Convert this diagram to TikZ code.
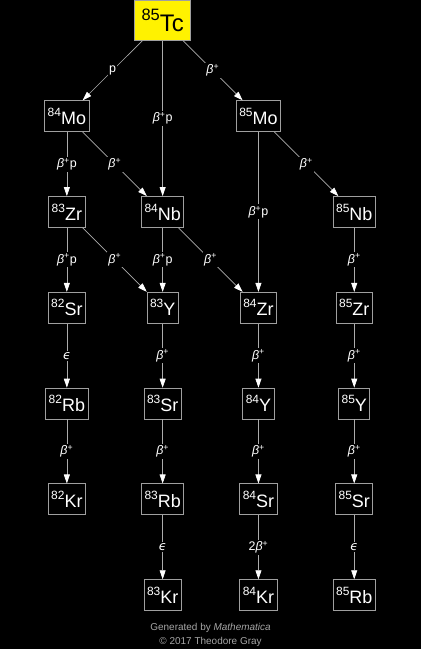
\documentclass[tikz,border=0pt]{standalone}
\usepackage{fontspec}
\setmainfont{Liberation Sans}
\newfontfamily\symfont{DejaVu Sans}
\usetikzlibrary{arrows.meta, positioning}

% nuclide label: mass number raised, then symbol
\newcommand{\iso}[2]{\raisebox{8pt}{\fontsize{12}{12}\selectfont #1}{\fontsize{18}{18}\selectfont #2}}
\newcommand{\isobig}[2]{\raisebox{11pt}{\fontsize{16.5}{16.5}\selectfont #1}{\fontsize{24}{24}\selectfont #2}}
% decay modes
\newcommand{\bplus}{\textit{β}\textsuperscript{+}}
\newcommand{\ecap}{{\symfont\itshape ϵ}}

\begin{document}
\begin{tikzpicture}[x=1pt, y=-1pt,
  nuc/.style={draw=gray!75, line width=0.8pt, text=white, minimum height=31pt, inner xsep=3pt, inner ysep=0pt},
  decay/.style={draw=gray!65, line width=0.7pt, -{Triangle[length=9pt,width=6pt,color=white]}},
  lab/.style={midway, fill=black, text=white, inner sep=1.5pt, font=\fontsize{12.5}{13}\selectfont}]

% background and size
\fill[black] (0,0) rectangle (422,650);

% parent
\node[nuc, fill=yellow, text=black, minimum width=56pt, minimum height=40pt] (tc85) at (163,20) {\isobig{85}{Tc}};

% row 1
\node[nuc] (mo84) at (67,116) {\iso{84}{Mo}};
\node[nuc] (mo85) at (259,116) {\iso{85}{Mo}};

% row 2
\node[nuc] (zr83) at (67,212) {\iso{83}{Zr}};
\node[nuc] (nb84) at (163,212) {\iso{84}{Nb}};
\node[nuc] (nb85) at (355,212) {\iso{85}{Nb}};

% row 3
\node[nuc] (sr82) at (67,308) {\iso{82}{Sr}};
\node[nuc] (y83) at (163,308) {\iso{83}{Y}};
\node[nuc] (zr84) at (259,308) {\iso{84}{Zr}};
\node[nuc] (zr85) at (355,308) {\iso{85}{Zr}};

% row 4
\node[nuc] (rb82) at (67,404) {\iso{82}{Rb}};
\node[nuc] (sr83) at (163,404) {\iso{83}{Sr}};
\node[nuc] (y84) at (259,404) {\iso{84}{Y}};
\node[nuc] (y85) at (355,404) {\iso{85}{Y}};

% row 5
\node[nuc] (kr82) at (67,500) {\iso{82}{Kr}};
\node[nuc] (rb83) at (163,500) {\iso{83}{Rb}};
\node[nuc] (sr84) at (259,500) {\iso{84}{Sr}};
\node[nuc] (sr85) at (355,500) {\iso{85}{Sr}};

% row 6
\node[nuc] (kr83) at (163,596) {\iso{83}{Kr}};
\node[nuc] (kr84) at (259,596) {\iso{84}{Kr}};
\node[nuc] (rb85) at (355,596) {\iso{85}{Rb}};

% decays from Tc
\draw[decay] (tc85) -- node[lab] {p} (mo84);
\draw[decay] (tc85) -- node[lab] {\bplus p} (nb84);
\draw[decay] (tc85) -- node[lab] {\bplus} (mo85);

% decays from Mo
\draw[decay] (mo84) -- node[lab] {\bplus p} (zr83);
\draw[decay] (mo84) -- node[lab] {\bplus} (nb84);
\draw[decay] (mo85) -- node[lab] {\bplus p} (zr84);
\draw[decay] (mo85) -- node[lab] {\bplus} (nb85);

% decays from Zr, Nb
\draw[decay] (zr83) -- node[lab] {\bplus p} (sr82);
\draw[decay] (zr83) -- node[lab] {\bplus} (y83);
\draw[decay] (nb84) -- node[lab] {\bplus p} (y83);
\draw[decay] (nb84) -- node[lab] {\bplus} (zr84);
\draw[decay] (nb85) -- node[lab] {\bplus} (zr85);

% lower chains
\draw[decay] (sr82) -- node[lab] {\ecap} (rb82);
\draw[decay] (y83) -- node[lab] {\bplus} (sr83);
\draw[decay] (zr84) -- node[lab] {\bplus} (y84);
\draw[decay] (zr85) -- node[lab] {\bplus} (y85);
\draw[decay] (rb82) -- node[lab] {\bplus} (kr82);
\draw[decay] (sr83) -- node[lab] {\bplus} (rb83);
\draw[decay] (y84) -- node[lab] {\bplus} (sr84);
\draw[decay] (y85) -- node[lab] {\bplus} (sr85);
\draw[decay] (rb83) -- node[lab] {\ecap} (kr83);
\draw[decay] (sr84) -- node[lab] {2\bplus} (kr84);
\draw[decay] (sr85) -- node[lab] {\ecap} (rb85);

% credits
\node[text=gray!70, font=\fontsize{10}{10}\selectfont] (gen) at (211,629) {Generated by \textit{Mathematica}};
\node[text=gray!70, font=\fontsize{10}{10}\selectfont] (copy) at (211,643) {© 2017 Theodore Gray};
\end{tikzpicture}
\end{document}
